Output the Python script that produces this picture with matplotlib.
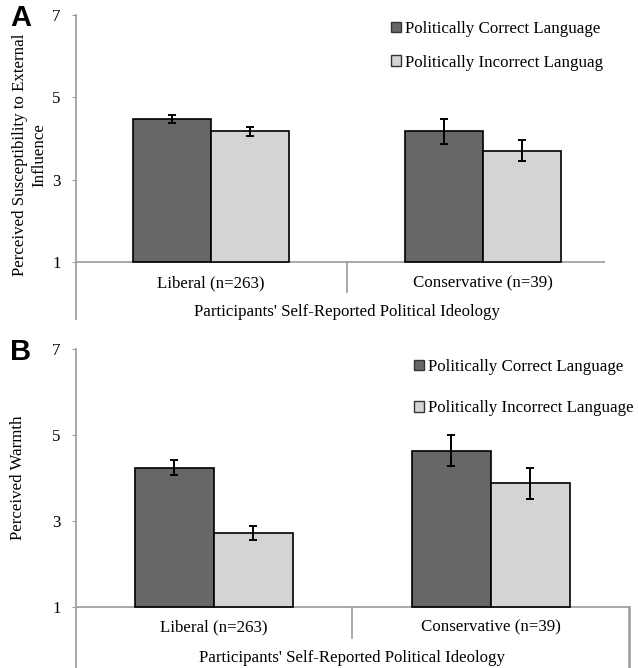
import matplotlib
matplotlib.use("Agg")
import matplotlib.pyplot as plt
from matplotlib.patches import Patch

plt.rcParams['font.family'] = ['Liberation Serif', 'DejaVu Serif']

# Data
categories = ["Liberal (n=263)", "Conservative (n=39)"]
series_a = ["Politically Correct Language", "Politically Incorrect Languag"]
series_b = ["Politically Correct Language", "Politically Incorrect Language"]

susceptibility_pc = [4.47, 4.18]
susceptibility_pc_err = [0.10, 0.30]
susceptibility_pi = [4.18, 3.71]
susceptibility_pi_err = [0.11, 0.26]

warmth_pc = [4.24, 4.63]
warmth_pc_err = [0.18, 0.36]
warmth_pi = [2.72, 3.88]
warmth_pi_err = [0.17, 0.36]

yticks = [1, 3, 5, 7]
xtitle = "Participants' Self-Reported Political Ideology"

W, H = 638, 668
fig = plt.figure(figsize=(W / 100, H / 100), dpi=100)

DARK = "#676767"
LIGHT = "#d4d4d4"
AXC = "#9a9a9a"
FS = 12.2


def px_axes(x0, x1, ytop, ybot):
    return fig.add_axes([x0 / W, 1 - ybot / H, (x1 - x0) / W, (ybot - ytop) / H])


def panel(ax, pc, pce, pi, pie, xlim, ylo, width, ylabel, ylabel_pos, legend_labels,
          right_line, leg_anchor, leg_spacing, title_y, cat_y, div_y):
    ax.set_xlim(*xlim)
    ax.set_ylim(ylo, 7)
    x = list(range(len(categories)))
    ekw = dict(ecolor="black", elinewidth=1.4, capsize=3, capthick=1.4)
    ax.bar([i - width / 2 for i in x], [v - 1 for v in pc], width, bottom=1,
           color=DARK, edgecolor="black", linewidth=1.2, zorder=3)
    ax.bar([i + width / 2 for i in x], [v - 1 for v in pi], width, bottom=1,
           color=LIGHT, edgecolor="black", linewidth=1.2, zorder=3)
    ax.errorbar([i - width / 2 for i in x], pc, yerr=pce, fmt="none", zorder=4, **ekw)
    ax.errorbar([i + width / 2 for i in x], pi, yerr=pie, fmt="none", zorder=4, **ekw)

    ax.axhline(1, color=AXC, linewidth=1.2, zorder=2)
    ax.plot([0.5, 0.5], [1, div_y], color=AXC, linewidth=1.2, clip_on=False)
    if right_line:
        ax.plot([xlim[1], xlim[1]], [1, ylo], color=AXC, linewidth=1.8, clip_on=False)

    for s in ["top", "right", "bottom"]:
        ax.spines[s].set_visible(False)
    ax.spines["left"].set_color(AXC)
    ax.spines["left"].set_linewidth(1.2)
    ax.set_xticks([])
    ax.set_yticks(yticks)
    ax.tick_params(axis="y", length=3, color=AXC, labelsize=FS, pad=8)
    for i, c in enumerate(categories):
        ax.text(i, cat_y, c, ha="center", va="center", fontsize=FS)
    ax.text(0.5, title_y, xtitle, ha="center", va="center", fontsize=FS)
    ax.set_ylabel(ylabel, fontsize=FS, linespacing=1.25)
    ax.yaxis.set_label_coords(ylabel_pos[0] / W, 1 - ylabel_pos[1] / H,
                              transform=fig.transFigure)

    handles = [Patch(facecolor=DARK, edgecolor="#333333", linewidth=1),
               Patch(facecolor=LIGHT, edgecolor="#333333", linewidth=1)]
    ax.legend(handles, legend_labels, loc="upper left",
              bbox_to_anchor=(leg_anchor[0] / W, 1 - leg_anchor[1] / H),
              bbox_transform=fig.transFigure, frameon=False, fontsize=FS,
              handlelength=0.6, handleheight=0.6, handletextpad=0.2,
              labelspacing=leg_spacing, borderpad=0, borderaxespad=0)


# Panel A
axA = px_axes(76, 605, 15, 319)
panel(axA, susceptibility_pc, susceptibility_pc_err, susceptibility_pi, susceptibility_pi_err,
      xlim=(-0.496, 1.449), ylo=-0.38, width=0.287,
      ylabel="Perceived Susceptibility to External\nInfluence", ylabel_pos=(47, 155),
      legend_labels=series_a, right_line=False,
      leg_anchor=(391, 21), leg_spacing=1.05,
      title_y=-0.21, cat_y=0.49, div_y=0.27)

# Panel B
axB = px_axes(76, 629, 349, 668)
panel(axB, warmth_pc, warmth_pc_err, warmth_pi, warmth_pi_err,
      xlim=(-0.497, 1.498), ylo=-0.42, width=0.285,
      ylabel="Perceived Warmth", ylabel_pos=(26, 478),
      legend_labels=series_b, right_line=True,
      leg_anchor=(414, 359), leg_spacing=1.5,
      title_y=-0.19, cat_y=0.52, div_y=0.28)

fig.text(10 / W, 1 - 18 / H, "A", fontsize=21, fontweight="bold",
         family="Liberation Sans", va="center", ha="left")
fig.text(10 / W, 1 - 352 / H, "B", fontsize=21, fontweight="bold",
         family="Liberation Sans", va="center", ha="left")

fig.savefig("out.png", dpi=100)
